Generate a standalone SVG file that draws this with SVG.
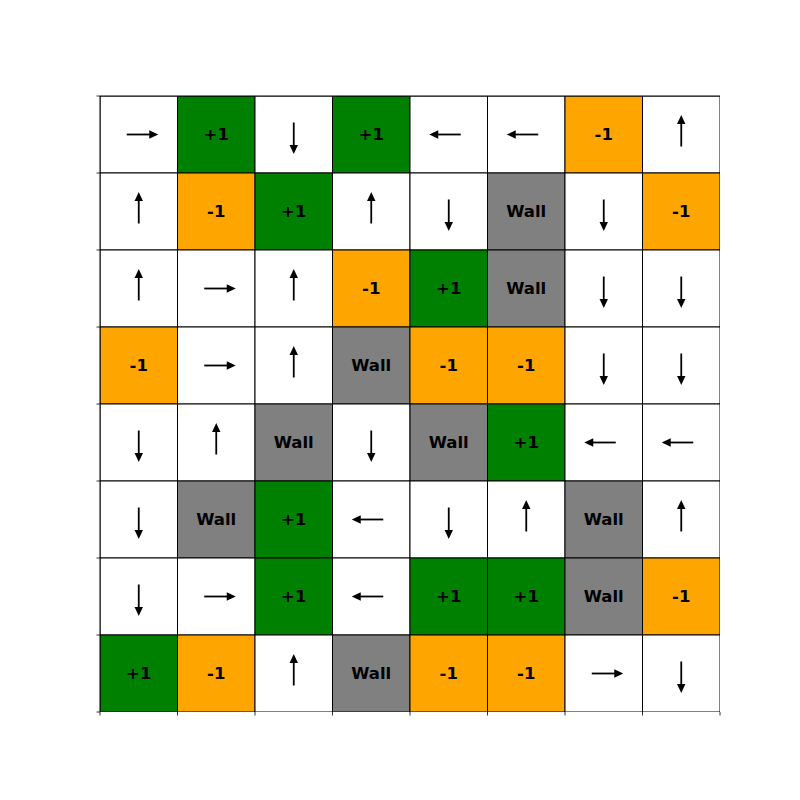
<svg xmlns="http://www.w3.org/2000/svg" xmlns:xlink="http://www.w3.org/1999/xlink" width="800" height="800" viewBox="0 0 800 800">
<style>
.c{stroke:#000;stroke-width:1}
.w{fill:#ffffff}
.g{fill:#008000}
.o{fill:#ffa500}
.k{fill:#808080}
.t{font-family:"DejaVu Sans",sans-serif;font-weight:bold;font-size:16.5px;text-anchor:middle;dominant-baseline:central;fill:#000}
.tick{stroke:#000;stroke-width:0.8}
</style>
<defs>
<clipPath id="ax"><rect x="100" y="96" width="620" height="616"/></clipPath>
<g id="arr"><line x1="-12" y1="0" x2="11" y2="0" stroke="#000" stroke-width="1.8"/><polygon points="10.5,-4.2 19.5,0 10.5,4.2" fill="#000"/></g>
</defs>
<rect width="800" height="800" fill="#fff"/>
<g clip-path="url(#ax)">
<g id="r0">
<g id="n0_0"><rect class="c w" x="100" y="96" width="77.5" height="77"/><use xlink:href="#arr" transform="translate(138.75,134.5)"/></g>
<g id="n0_1"><rect class="c g" x="177.5" y="96" width="77.5" height="77"/><text class="t" x="216.25" y="134.5">+1</text></g>
<g id="n0_2"><rect class="c w" x="255" y="96" width="77.5" height="77"/><use xlink:href="#arr" transform="translate(293.75,134.5) rotate(90)"/></g>
<g id="n0_3"><rect class="c g" x="332.5" y="96" width="77.5" height="77"/><text class="t" x="371.25" y="134.5">+1</text></g>
<g id="n0_4"><rect class="c w" x="410" y="96" width="77.5" height="77"/><use xlink:href="#arr" transform="translate(448.75,134.5) rotate(180)"/></g>
<g id="n0_5"><rect class="c w" x="487.5" y="96" width="77.5" height="77"/><use xlink:href="#arr" transform="translate(526.25,134.5) rotate(180)"/></g>
<g id="n0_6"><rect class="c o" x="565" y="96" width="77.5" height="77"/><text class="t" x="603.75" y="134.5">-1</text></g>
<g id="n0_7"><rect class="c w" x="642.5" y="96" width="77.5" height="77"/><use xlink:href="#arr" transform="translate(681.25,134.5) rotate(-90)"/></g>
</g>
<g id="r1">
<g id="n1_0"><rect class="c w" x="100" y="173" width="77.5" height="77"/><use xlink:href="#arr" transform="translate(138.75,211.5) rotate(-90)"/></g>
<g id="n1_1"><rect class="c o" x="177.5" y="173" width="77.5" height="77"/><text class="t" x="216.25" y="211.5">-1</text></g>
<g id="n1_2"><rect class="c g" x="255" y="173" width="77.5" height="77"/><text class="t" x="293.75" y="211.5">+1</text></g>
<g id="n1_3"><rect class="c w" x="332.5" y="173" width="77.5" height="77"/><use xlink:href="#arr" transform="translate(371.25,211.5) rotate(-90)"/></g>
<g id="n1_4"><rect class="c w" x="410" y="173" width="77.5" height="77"/><use xlink:href="#arr" transform="translate(448.75,211.5) rotate(90)"/></g>
<g id="n1_5"><rect class="c k" x="487.5" y="173" width="77.5" height="77"/><text class="t" x="526.25" y="211.5">Wall</text></g>
<g id="n1_6"><rect class="c w" x="565" y="173" width="77.5" height="77"/><use xlink:href="#arr" transform="translate(603.75,211.5) rotate(90)"/></g>
<g id="n1_7"><rect class="c o" x="642.5" y="173" width="77.5" height="77"/><text class="t" x="681.25" y="211.5">-1</text></g>
</g>
<g id="r2">
<g id="n2_0"><rect class="c w" x="100" y="250" width="77.5" height="77"/><use xlink:href="#arr" transform="translate(138.75,288.5) rotate(-90)"/></g>
<g id="n2_1"><rect class="c w" x="177.5" y="250" width="77.5" height="77"/><use xlink:href="#arr" transform="translate(216.25,288.5)"/></g>
<g id="n2_2"><rect class="c w" x="255" y="250" width="77.5" height="77"/><use xlink:href="#arr" transform="translate(293.75,288.5) rotate(-90)"/></g>
<g id="n2_3"><rect class="c o" x="332.5" y="250" width="77.5" height="77"/><text class="t" x="371.25" y="288.5">-1</text></g>
<g id="n2_4"><rect class="c g" x="410" y="250" width="77.5" height="77"/><text class="t" x="448.75" y="288.5">+1</text></g>
<g id="n2_5"><rect class="c k" x="487.5" y="250" width="77.5" height="77"/><text class="t" x="526.25" y="288.5">Wall</text></g>
<g id="n2_6"><rect class="c w" x="565" y="250" width="77.5" height="77"/><use xlink:href="#arr" transform="translate(603.75,288.5) rotate(90)"/></g>
<g id="n2_7"><rect class="c w" x="642.5" y="250" width="77.5" height="77"/><use xlink:href="#arr" transform="translate(681.25,288.5) rotate(90)"/></g>
</g>
<g id="r3">
<g id="n3_0"><rect class="c o" x="100" y="327" width="77.5" height="77"/><text class="t" x="138.75" y="365.5">-1</text></g>
<g id="n3_1"><rect class="c w" x="177.5" y="327" width="77.5" height="77"/><use xlink:href="#arr" transform="translate(216.25,365.5)"/></g>
<g id="n3_2"><rect class="c w" x="255" y="327" width="77.5" height="77"/><use xlink:href="#arr" transform="translate(293.75,365.5) rotate(-90)"/></g>
<g id="n3_3"><rect class="c k" x="332.5" y="327" width="77.5" height="77"/><text class="t" x="371.25" y="365.5">Wall</text></g>
<g id="n3_4"><rect class="c o" x="410" y="327" width="77.5" height="77"/><text class="t" x="448.75" y="365.5">-1</text></g>
<g id="n3_5"><rect class="c o" x="487.5" y="327" width="77.5" height="77"/><text class="t" x="526.25" y="365.5">-1</text></g>
<g id="n3_6"><rect class="c w" x="565" y="327" width="77.5" height="77"/><use xlink:href="#arr" transform="translate(603.75,365.5) rotate(90)"/></g>
<g id="n3_7"><rect class="c w" x="642.5" y="327" width="77.5" height="77"/><use xlink:href="#arr" transform="translate(681.25,365.5) rotate(90)"/></g>
</g>
<g id="r4">
<g id="n4_0"><rect class="c w" x="100" y="404" width="77.5" height="77"/><use xlink:href="#arr" transform="translate(138.75,442.5) rotate(90)"/></g>
<g id="n4_1"><rect class="c w" x="177.5" y="404" width="77.5" height="77"/><use xlink:href="#arr" transform="translate(216.25,442.5) rotate(-90)"/></g>
<g id="n4_2"><rect class="c k" x="255" y="404" width="77.5" height="77"/><text class="t" x="293.75" y="442.5">Wall</text></g>
<g id="n4_3"><rect class="c w" x="332.5" y="404" width="77.5" height="77"/><use xlink:href="#arr" transform="translate(371.25,442.5) rotate(90)"/></g>
<g id="n4_4"><rect class="c k" x="410" y="404" width="77.5" height="77"/><text class="t" x="448.75" y="442.5">Wall</text></g>
<g id="n4_5"><rect class="c g" x="487.5" y="404" width="77.5" height="77"/><text class="t" x="526.25" y="442.5">+1</text></g>
<g id="n4_6"><rect class="c w" x="565" y="404" width="77.5" height="77"/><use xlink:href="#arr" transform="translate(603.75,442.5) rotate(180)"/></g>
<g id="n4_7"><rect class="c w" x="642.5" y="404" width="77.5" height="77"/><use xlink:href="#arr" transform="translate(681.25,442.5) rotate(180)"/></g>
</g>
<g id="r5">
<g id="n5_0"><rect class="c w" x="100" y="481" width="77.5" height="77"/><use xlink:href="#arr" transform="translate(138.75,519.5) rotate(90)"/></g>
<g id="n5_1"><rect class="c k" x="177.5" y="481" width="77.5" height="77"/><text class="t" x="216.25" y="519.5">Wall</text></g>
<g id="n5_2"><rect class="c g" x="255" y="481" width="77.5" height="77"/><text class="t" x="293.75" y="519.5">+1</text></g>
<g id="n5_3"><rect class="c w" x="332.5" y="481" width="77.5" height="77"/><use xlink:href="#arr" transform="translate(371.25,519.5) rotate(180)"/></g>
<g id="n5_4"><rect class="c w" x="410" y="481" width="77.5" height="77"/><use xlink:href="#arr" transform="translate(448.75,519.5) rotate(90)"/></g>
<g id="n5_5"><rect class="c w" x="487.5" y="481" width="77.5" height="77"/><use xlink:href="#arr" transform="translate(526.25,519.5) rotate(-90)"/></g>
<g id="n5_6"><rect class="c k" x="565" y="481" width="77.5" height="77"/><text class="t" x="603.75" y="519.5">Wall</text></g>
<g id="n5_7"><rect class="c w" x="642.5" y="481" width="77.5" height="77"/><use xlink:href="#arr" transform="translate(681.25,519.5) rotate(-90)"/></g>
</g>
<g id="r6">
<g id="n6_0"><rect class="c w" x="100" y="558" width="77.5" height="77"/><use xlink:href="#arr" transform="translate(138.75,596.5) rotate(90)"/></g>
<g id="n6_1"><rect class="c w" x="177.5" y="558" width="77.5" height="77"/><use xlink:href="#arr" transform="translate(216.25,596.5)"/></g>
<g id="n6_2"><rect class="c g" x="255" y="558" width="77.5" height="77"/><text class="t" x="293.75" y="596.5">+1</text></g>
<g id="n6_3"><rect class="c w" x="332.5" y="558" width="77.5" height="77"/><use xlink:href="#arr" transform="translate(371.25,596.5) rotate(180)"/></g>
<g id="n6_4"><rect class="c g" x="410" y="558" width="77.5" height="77"/><text class="t" x="448.75" y="596.5">+1</text></g>
<g id="n6_5"><rect class="c g" x="487.5" y="558" width="77.5" height="77"/><text class="t" x="526.25" y="596.5">+1</text></g>
<g id="n6_6"><rect class="c k" x="565" y="558" width="77.5" height="77"/><text class="t" x="603.75" y="596.5">Wall</text></g>
<g id="n6_7"><rect class="c o" x="642.5" y="558" width="77.5" height="77"/><text class="t" x="681.25" y="596.5">-1</text></g>
</g>
<g id="r7">
<g id="n7_0"><rect class="c g" x="100" y="635" width="77.5" height="77"/><text class="t" x="138.75" y="673.5">+1</text></g>
<g id="n7_1"><rect class="c o" x="177.5" y="635" width="77.5" height="77"/><text class="t" x="216.25" y="673.5">-1</text></g>
<g id="n7_2"><rect class="c w" x="255" y="635" width="77.5" height="77"/><use xlink:href="#arr" transform="translate(293.75,673.5) rotate(-90)"/></g>
<g id="n7_3"><rect class="c k" x="332.5" y="635" width="77.5" height="77"/><text class="t" x="371.25" y="673.5">Wall</text></g>
<g id="n7_4"><rect class="c o" x="410" y="635" width="77.5" height="77"/><text class="t" x="448.75" y="673.5">-1</text></g>
<g id="n7_5"><rect class="c o" x="487.5" y="635" width="77.5" height="77"/><text class="t" x="526.25" y="673.5">-1</text></g>
<g id="n7_6"><rect class="c w" x="565" y="635" width="77.5" height="77"/><use xlink:href="#arr" transform="translate(603.75,673.5)"/></g>
<g id="n7_7"><rect class="c w" x="642.5" y="635" width="77.5" height="77"/><use xlink:href="#arr" transform="translate(681.25,673.5) rotate(90)"/></g>
</g>
</g>
<g id="frame">
<line x1="100" y1="96" x2="720" y2="96" stroke="#000" stroke-width="1"/>
<line x1="100" y1="96" x2="100" y2="712" stroke="#000" stroke-width="1"/>
</g>
<g id="ticks" class="tick">
<line x1="96.5" y1="96" x2="100" y2="96"/><line x1="96.5" y1="173" x2="100" y2="173"/><line x1="96.5" y1="250" x2="100" y2="250"/><line x1="96.5" y1="327" x2="100" y2="327"/><line x1="96.5" y1="404" x2="100" y2="404"/><line x1="96.5" y1="481" x2="100" y2="481"/><line x1="96.5" y1="558" x2="100" y2="558"/><line x1="96.5" y1="635" x2="100" y2="635"/><line x1="96.5" y1="712" x2="100" y2="712"/>
<line x1="100" y1="712" x2="100" y2="715.5"/><line x1="177.5" y1="712" x2="177.5" y2="715.5"/><line x1="255" y1="712" x2="255" y2="715.5"/><line x1="332.5" y1="712" x2="332.5" y2="715.5"/><line x1="410" y1="712" x2="410" y2="715.5"/><line x1="487.5" y1="712" x2="487.5" y2="715.5"/><line x1="565" y1="712" x2="565" y2="715.5"/><line x1="642.5" y1="712" x2="642.5" y2="715.5"/><line x1="720" y1="712" x2="720" y2="715.5"/>
</g>
</svg>
